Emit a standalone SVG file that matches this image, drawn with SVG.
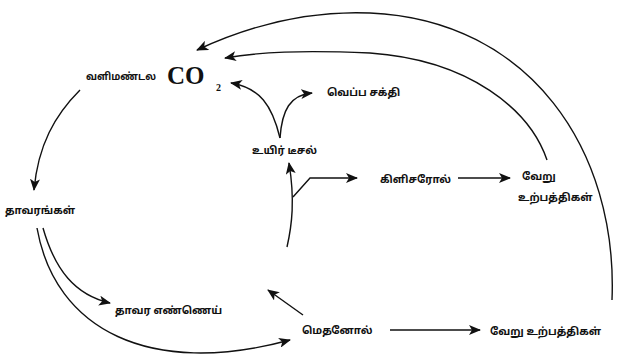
<svg xmlns="http://www.w3.org/2000/svg" width="619" height="358" viewBox="0 0 619 358">
<style>
.t{font-family:"Noto Sans Tamil","Lohit Tamil","Noto Sans",sans-serif;font-size:10.5px;font-weight:bold;fill:#111;}
.co{font-family:"Liberation Serif",serif;font-weight:bold;font-size:25px;fill:#111;}
.sub{font-family:"Liberation Serif",serif;font-weight:bold;font-size:10px;fill:#111;}
.c{fill:none;stroke:#111;stroke-width:1.4;marker-end:url(#ah);}
</style>
<defs>
<marker id="ah" viewBox="0 0 12 10" refX="11" refY="5" markerWidth="12" markerHeight="10" markerUnits="userSpaceOnUse" orient="auto">
<path d="M0,0 L12,5 L0,10 L3,5 z" fill="#111"/>
</marker>
</defs>
<rect width="619" height="358" fill="#fff"/>
<g id="connectors">
<path class="c" d="M612,300 C618,150 530,20 370,13 C300,10 240,30 197,50"/>
<path class="c" d="M547,160 C530,110 470,60 370,53 C300,50 260,52 225,58"/>
<path class="c" d="M280,138 C272,105 260,88 231,83"/>
<path class="c" d="M280,138 C282,110 290,95 312,93"/>
<path class="c" d="M80,90 C55,115 38,145 34,190"/>
<path class="c" d="M287,247 C292,225 295,200 289,163"/>
<path class="c" d="M293,197 L310,178 L357,178"/>
<path class="c" d="M458,178 L510,178"/>
<path class="c" d="M43,228 C55,270 75,295 110,303"/>
<path class="c" d="M37,228 C55,330 150,378 290,340"/>
<path class="c" d="M303,315 L268,290"/>
<path class="c" d="M390,330 L480,330"/>
</g>
<g id="n-atmos"><text class="t" x="86" y="80" textLength="70" lengthAdjust="spacingAndGlyphs">வளிமண்டல</text><text class="co" x="167" y="84">CO</text><text class="sub" x="216" y="91">2</text></g>
<g id="n-heat"><text class="t" x="327" y="96">வெப்ப சக்தி</text></g>
<g id="n-biodiesel"><text class="t" x="252" y="154">உயிர் டீசல்</text></g>
<g id="n-plants"><text class="t" x="5" y="214">தாவரங்கள்</text></g>
<g id="n-glycerol"><text class="t" x="380" y="183">கிளிசரோல்</text></g>
<g id="n-other1"><text class="t" x="522" y="180">வேறு</text><text class="t" x="518" y="201">உற்பத்திகள்</text></g>
<g id="n-oil"><text class="t" x="115" y="314">தாவர எண்ணெய்</text></g>
<g id="n-methanol"><text class="t" x="302" y="334">மெதனோல்</text></g>
<g id="n-other2"><text class="t" x="490" y="335">வேறு உற்பத்திகள்</text></g>
</svg>
